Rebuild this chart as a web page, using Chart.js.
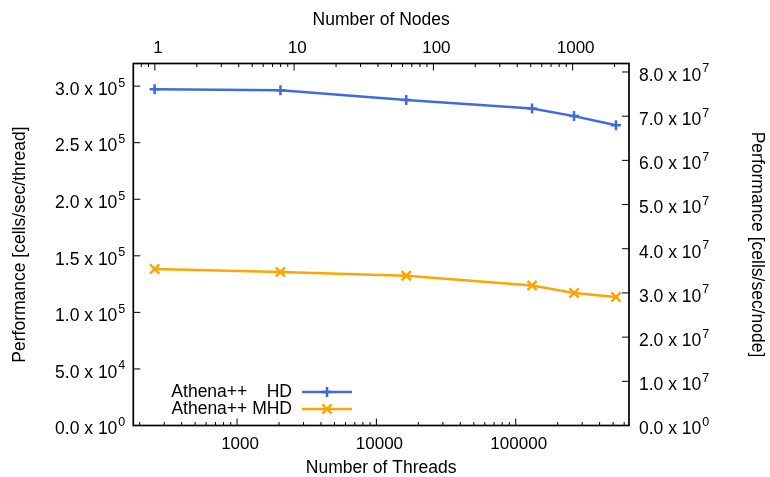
<!DOCTYPE html>
<html>
<head>
<meta charset="utf-8">
<title>Athena++ scaling</title>
<script src="https://cdn.jsdelivr.net/npm/chart.js@4/dist/chart.umd.min.js"></script>
<style>
    html, body { margin: 0; padding: 0; background: #fff; }
    canvas { display: block; }
</style>
</head>
<body>
<canvas id="scalingChart" width="770" height="477"></canvas>
<script>
// values
const threads = [256, 2048, 16384, 131072, 262144, 524288];
const hdPerf = [2.972e5, 2.963e5, 2.878e5, 2.803e5, 2.735e5, 2.655e5];
const mhdPerf = [1.384e5, 1.357e5, 1.324e5, 1.238e5, 1.171e5, 1.136e5];

const seriesLabels = ['Athena++    HD', 'Athena++ MHD'];
const threadTicks = [1000, 10000, 100000];
const nodeTicks = [1, 10, 100, 1000];
const leftTicks = [0, 5e4, 1e5, 1.5e5, 2e5, 2.5e5, 3e5];
const rightTicks = [0, 1e7, 2e7, 3e7, 4e7, 5e7, 6e7, 7e7, 8e7];

const threadsPerNode = 256;
const xMin = 180, xMax = 650000;
const yMax = 3.2e5;

const colors = {
    hd: '#4169e1',
    mhd: '#ffa500',
    axis: '#000'
};

const family = '"Liberation Sans", Arial, "DejaVu Sans", sans-serif';
Chart.defaults.font.family = family;
Chart.defaults.font.size = 17;
Chart.defaults.color = '#000';

// "3.0 x 10" + exponent, exponent drawn as a raised smaller run
function sciParts(v) {
    if (v === 0) return ['0.0 x 10', '0'];
    const e = Math.floor(Math.log10(v) + 1e-9);
    const m = v / Math.pow(10, e);
    return [m.toFixed(1) + ' x 10', String(e)];
}

function drawSci(ctx, v, x, y, align) {
    const [main, exp] = sciParts(v);
    ctx.font = '17.5px ' + family;
    const wMain = ctx.measureText(main).width;
    ctx.font = '12.5px ' + family;
    const wExp = ctx.measureText(exp).width;
    const x0 = align === 'right' ? x - wMain - 1 - wExp : x;
    const base = y + 8.8;
    ctx.textAlign = 'left';
    ctx.textBaseline = 'alphabetic';
    ctx.font = '17.5px ' + family;
    ctx.fillText(main, x0, base);
    ctx.font = '12.5px ' + family;
    ctx.fillText(exp, x0 + wMain + 1, base - 8.3);
}

// gnuplot style log ticks: 1..9 in every decade, labels only on majors
function logTicks(min, max, majors) {
    const out = [];
    for (let e = Math.floor(Math.log10(min)); e <= Math.ceil(Math.log10(max)); e++) {
        for (let k = 1; k < 10; k++) {
            const v = k * Math.pow(10, e);
            if (v >= min && v <= max) out.push({ value: v, major: majors.includes(v) });
        }
    }
    return out;
}

const frame = {
    id: 'frame',
    afterDraw(chart) {
        const { ctx, chartArea: a, scales } = chart;
        ctx.save();
        ctx.strokeStyle = colors.axis;
        ctx.lineWidth = 1;
        ctx.beginPath();
        scales.x.ticks.forEach(t => {
            const p = scales.x.getPixelForValue(t.value);
            ctx.moveTo(p, a.bottom);
            ctx.lineTo(p, a.bottom - (t.major ? 7 : 3.5));
        });
        scales.x2.ticks.forEach(t => {
            const p = scales.x2.getPixelForValue(t.value);
            ctx.moveTo(p, a.top);
            ctx.lineTo(p, a.top + (t.major ? 7 : 3.5));
        });
        scales.y.ticks.forEach(t => {
            const p = scales.y.getPixelForValue(t.value);
            ctx.moveTo(a.left, p);
            ctx.lineTo(a.left + 7, p);
        });
        scales.y2.ticks.forEach(t => {
            const p = scales.y2.getPixelForValue(t.value);
            ctx.moveTo(a.right, p);
            ctx.lineTo(a.right - 7, p);
        });
        ctx.stroke();

        ctx.lineWidth = 1.7;
        ctx.strokeRect(a.left, a.top, a.right - a.left, a.bottom - a.top);

        // y tick labels with superscript exponents
        ctx.fillStyle = '#000';
        scales.y.ticks.forEach(t => {
            drawSci(ctx, t.value, a.left - 8, scales.y.getPixelForValue(t.value), 'right');
        });
        scales.y2.ticks.forEach(t => {
            drawSci(ctx, t.value, a.right + 10, scales.y2.getPixelForValue(t.value), 'left');
        });

        // key, bottom left inside the frame
        ctx.font = '17.5px ' + family;
        ctx.textAlign = 'right';
        ctx.textBaseline = 'middle';
        chart.data.datasets.forEach((ds, i) => {
            const y = 392 + i * 17;
            ctx.fillStyle = '#000';
            ctx.fillText(ds.label, 292, y);
            ctx.strokeStyle = ds.borderColor;
            ctx.lineWidth = ds.borderWidth;
            ctx.beginPath();
            ctx.moveTo(302, y);
            ctx.lineTo(352, y);
            ctx.stroke();
            Chart.helpers.drawPoint(ctx, {
                pointStyle: ds.pointStyle,
                radius: ds.pointRadius,
                borderWidth: ds.pointBorderWidth,
                rotation: 0
            }, 327, y);
        });
        ctx.restore();
    }
};

const ctx = document.getElementById('scalingChart').getContext('2d');

new Chart(ctx, {
    type: 'line',
    data: {
        datasets: [{
            label: seriesLabels[0],
            data: threads.map((t, i) => ({ x: t, y: hdPerf[i] })),
            borderColor: colors.hd,
            backgroundColor: colors.hd,
            borderWidth: 2.5,
            pointStyle: 'cross',
            pointRadius: 5,
            pointBorderWidth: 2.5,
            tension: 0
        }, {
            label: seriesLabels[1],
            data: threads.map((t, i) => ({ x: t, y: mhdPerf[i] })),
            borderColor: colors.mhd,
            backgroundColor: colors.mhd,
            borderWidth: 2.5,
            pointStyle: 'crossRot',
            pointRadius: 6.5,
            pointBorderWidth: 2.5,
            tension: 0
        }]
    },
    options: {
        responsive: false,
        animation: false,
        layout: { padding: 0 },
        plugins: {
            legend: { display: false },
            tooltip: { enabled: false }
        },
        scales: {
            x: {
                type: 'logarithmic',
                position: 'bottom',
                min: xMin,
                max: xMax,
                grid: { display: false, drawTicks: false },
                border: { display: false },
                afterBuildTicks: s => { s.ticks = logTicks(xMin, xMax, threadTicks); },
                afterFit: s => { s.height = 51.5; },
                ticks: {
                    autoSkip: false,
                    minRotation: 0,
                    maxRotation: 0,
                    padding: 9,
                    labelOffset: 3,
                    callback: (v, i, ticks) => ticks[i].major ? String(v) : ''
                },
                title: {
                    display: true,
                    text: 'Number of Threads',
                    font: { size: 17.5, lineHeight: 1 },
                    padding: { top: 0, bottom: 0 }
                }
            },
            x2: {
                axis: 'x',
                type: 'logarithmic',
                position: 'top',
                min: xMin / threadsPerNode,
                max: xMax / threadsPerNode,
                grid: { display: false, drawTicks: false },
                border: { display: false },
                afterBuildTicks: s => { s.ticks = logTicks(xMin / threadsPerNode, xMax / threadsPerNode, nodeTicks); },
                afterFit: s => { s.height = 63.5; },
                ticks: {
                    autoSkip: false,
                    minRotation: 0,
                    maxRotation: 0,
                    padding: 5,
                    labelOffset: 3,
                    callback: (v, i, ticks) => ticks[i].major ? String(v) : ''
                },
                title: {
                    display: true,
                    text: 'Number of Nodes',
                    font: { size: 17.5, lineHeight: 1 },
                    padding: { top: 11.5, bottom: 0 }
                }
            },
            y: {
                type: 'linear',
                position: 'left',
                min: 0,
                max: yMax,
                grid: { display: false, drawTicks: false },
                border: { display: false },
                afterBuildTicks: s => { s.ticks = leftTicks.map(v => ({ value: v })); },
                afterFit: s => { s.width = 133.3; },
                ticks: { display: false },
                title: {
                    display: true,
                    text: 'Performance [cells/sec/thread]',
                    font: { size: 17.5, lineHeight: 1 },
                    padding: { top: 11, bottom: 0 }
                }
            },
            y2: {
                axis: 'y',
                type: 'linear',
                position: 'right',
                min: 0,
                max: yMax * threadsPerNode,
                grid: { display: false, drawTicks: false },
                border: { display: false },
                afterBuildTicks: s => { s.ticks = rightTicks.map(v => ({ value: v })); },
                afterFit: s => { s.width = 141; },
                ticks: { display: false },
                title: {
                    display: true,
                    text: 'Performance [cells/sec/node]',
                    font: { size: 17.5, lineHeight: 1 },
                    padding: { top: 4, bottom: 0 }
                }
            }
        }
    },
    plugins: [frame]
});
</script>
</body>
</html>
